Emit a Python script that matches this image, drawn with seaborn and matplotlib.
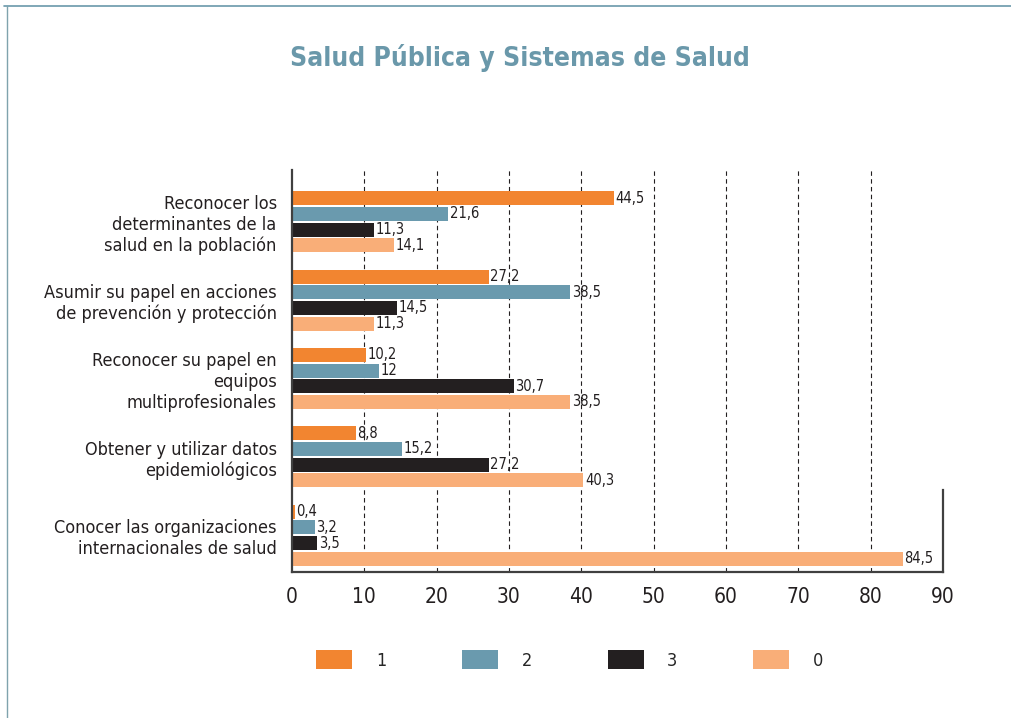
import pandas as pd
import matplotlib.pyplot as plt
import matplotlib.lines as mlines
import seaborn as sns

# Datos
categorias = [
    "Reconocer los\ndeterminantes de la\nsalud en la población",
    "Asumir su papel en acciones\nde prevención y protección",
    "Reconocer su papel en\nequipos\nmultiprofesionales",
    "Obtener y utilizar datos\nepidemiológicos",
    "Conocer las organizaciones\ninternacionales de salud",
]
series = ["1", "2", "3", "0"]
valores_1 = [44.5, 27.2, 10.2, 8.8, 0.4]
valores_2 = [21.6, 38.5, 12, 15.2, 3.2]
valores_3 = [11.3, 14.5, 30.7, 27.2, 3.5]
valores_0 = [14.1, 11.3, 38.5, 40.3, 84.5]
x_ticks = list(range(0, 91, 10))

colores = ["#F28530", "#6A9AAE", "#231F20", "#F9AE78"]
TITLE_COLOR = "#6A98AA"

sns.set_theme(style="white")
plt.rcParams["font.family"] = ["DejaVu Sans"]
plt.rcParams["font.stretch"] = "condensed"

rows = []
for serie, vals in zip(series, [valores_1, valores_2, valores_3, valores_0]):
    for cat, v in zip(categorias, vals):
        rows.append({"categoria": cat, "serie": serie, "valor": v})
df = pd.DataFrame(rows)

fig = plt.figure(figsize=(10.12, 7.18), dpi=100)
ax = fig.add_axes([0.2885, 0.2033, 0.6433, 0.5599])

sns.barplot(data=df, y="categoria", x="valor", hue="serie", hue_order=series,
            palette=colores, orient="h", gap=0.1, saturation=1, ax=ax,
            order=categorias, linewidth=0)

# etiquetas con coma decimal
for cont in ax.containers:
    labels = [f"{b.get_width():g}".replace(".", ",") for b in cont]
    ax.bar_label(cont, labels=labels, padding=1, fontsize=10.5, color="#231F20")

ax.set_xlim(0, 90)
ax.set_ylim(4.47, -0.66)
ax.set_xticks(x_ticks)
ax.set_xlabel("")
ax.set_ylabel("")
ax.tick_params(axis="x", length=0, pad=11, labelsize=15, colors="#231F20")
ax.tick_params(axis="y", length=0, pad=11, labelsize=13, colors="#231F20")
for lab in ax.get_yticklabels():
    lab.set_multialignment("right")
    lab.set_linespacing(1.2)

for t in x_ticks[1:-1]:
    ax.axvline(t, color="#231F20", lw=0.8, ls=(0, (4, 3)), zorder=0)

ax.spines["top"].set_visible(False)
for side in ["left", "bottom", "right"]:
    ax.spines[side].set_color("#404040")
    ax.spines[side].set_linewidth(1.6)
ax.spines["right"].set_bounds(3.42, 4.47)

sns.move_legend(ax, loc="center", bbox_to_anchor=(0.563, 0.081),
                bbox_transform=fig.transFigure, ncol=4, frameon=False,
                title=None, fontsize=13, handlelength=2.0, handleheight=1.2,
                handletextpad=1.3, columnspacing=4.2)

fig.text(0.5135, 0.919, "Salud Pública y Sistemas de Salud", ha="center",
         va="center", fontsize=19, fontweight="bold", color=TITLE_COLOR)

# marco de la página
fig.add_artist(mlines.Line2D([0.004, 1.0], [0.9916, 0.9916], color="#6A98AA",
                             lw=1.2, transform=fig.transFigure))
fig.add_artist(mlines.Line2D([0.007, 0.007], [0.0, 0.9916], color="#7FA3AD",
                             lw=1.0, transform=fig.transFigure))

fig.savefig("out.png", dpi=100)
